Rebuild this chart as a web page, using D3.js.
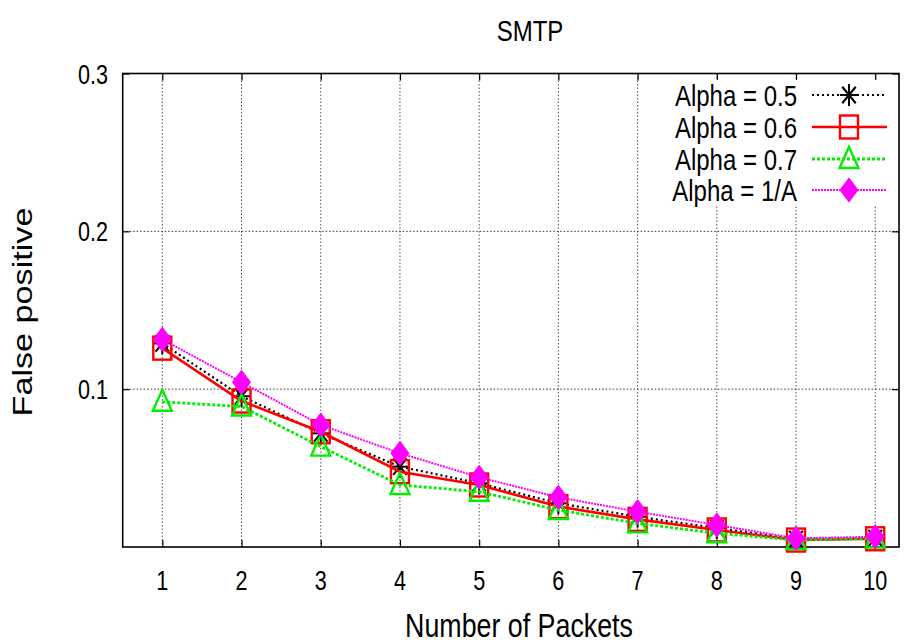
<!DOCTYPE html>
<html>
<head>
<meta charset="utf-8">
<script src="https://cdn.jsdelivr.net/npm/d3@7"></script>
<style>
  html, body { margin: 0; padding: 0; background: #fff; }
  svg { display: block; }
  text { font-family: "Liberation Sans", Arial, Helvetica, sans-serif; fill: #000; }
</style>
</head>
<body>
<svg id="chart" width="908" height="643"></svg>
<script>
// False-positive rate against number of packets for the SMTP trace
const packets = [1, 2, 3, 4, 5, 6, 7, 8, 9, 10];
const alpha05 = [0.129, 0.0955, 0.072, 0.0509, 0.0404, 0.0277, 0.0192, 0.0120, 0.0050, 0.0056];
const alpha06 = [0.126, 0.0925, 0.073, 0.0477, 0.0393, 0.0256, 0.0175, 0.0108, 0.0044, 0.0052];
const alpha07 = [0.092, 0.0890, 0.0636, 0.0393, 0.0350, 0.0234, 0.0150, 0.0087, 0.0044, 0.0054];
const alphaInv = [0.1316, 0.1044, 0.0773, 0.0594, 0.0442, 0.0315, 0.0224, 0.0139, 0.0055, 0.0065];
const seriesNames = ["Alpha = 0.5", "Alpha = 0.6", "Alpha = 0.7", "Alpha = 1/A"];
const yTicks = [0.1, 0.2, 0.3];
const titleText = "SMTP";
const xLabelText = "Number of Packets";
const yLabelText = "False positive";

const svg = d3.select("#chart");
const plotL = 122.7, plotR = 899, plotT = 73.5, plotB = 547;

const x = d3.scaleLinear().domain([0.5, 10.3]).range([plotL, plotR]);
const y = d3.scaleLinear().domain([0, 0.3]).range([plotB, plotT]);

// condensed text: glyphs are narrower than they are tall
const SX = 0.8;
function label(g, str, px, py, size, anchor) {
  return g.append("text")
    .attr("transform", `translate(${px},${py}) scale(${SX},1)`)
    .attr("text-anchor", anchor)
    .style("font-size", size + "px")
    .text(str);
}

// grid
const grid = svg.append("g");
grid.selectAll("line.vx").data(packets).join("line")
  .attr("x1", d => x(d)).attr("x2", d => x(d))
  .attr("y1", plotT).attr("y2", plotB)
  .attr("stroke", "#555").attr("stroke-width", 1).attr("stroke-dasharray", "1.5,2");
grid.selectAll("line.hy").data(yTicks.filter(d => d < 0.3)).join("line")
  .attr("x1", plotL).attr("x2", plotR)
  .attr("y1", d => y(d)).attr("y2", d => y(d))
  .attr("stroke", "#333").attr("stroke-width", 1).attr("stroke-dasharray", "1.5,2");

// axes with inward ticks, mirrored on the opposite sides
const axB = svg.append("g").attr("transform", `translate(0,${plotB})`)
  .call(d3.axisBottom(x).tickValues(packets).tickSizeInner(-7).tickSizeOuter(0).tickFormat(""));
const axT = svg.append("g").attr("transform", `translate(0,${plotT})`)
  .call(d3.axisTop(x).tickValues(packets).tickSizeInner(-7).tickSizeOuter(0).tickFormat(""));
const axL = svg.append("g").attr("transform", `translate(${plotL},0)`)
  .call(d3.axisLeft(y).tickValues(yTicks).tickSizeInner(-7).tickSizeOuter(0).tickFormat(""));
const axR = svg.append("g").attr("transform", `translate(${plotR},0)`)
  .call(d3.axisRight(y).tickValues(yTicks).tickSizeInner(-7).tickSizeOuter(0).tickFormat(""));
[axB, axT, axL, axR].forEach(a => {
  a.select(".domain").remove();
  a.selectAll(".tick line").attr("stroke", "#000").attr("stroke-width", 1.2);
});

// tick labels
const tl = svg.append("g");
packets.forEach(p => label(tl, String(p), x(p), 590, 27, "middle"));
yTicks.forEach(v => label(tl, d3.format(".1f")(v), 108, y(v) + 10, 27, "end"));

// legend background hides the grid behind it
svg.append("rect").attr("x", 660).attr("y", 80).attr("width", 236).attr("height", 126).attr("fill", "#fff");

// frame
svg.append("rect").attr("x", plotL).attr("y", plotT)
  .attr("width", plotR - plotL).attr("height", plotB - plotT)
  .attr("fill", "none").attr("stroke", "#000").attr("stroke-width", 1.6);

// titles
label(svg, titleText, 530, 41, 30, "middle");
label(svg, xLabelText, 519, 637, 33.5, "middle");
svg.append("text")
  .attr("transform", `translate(32,312) scale(1,1.22) rotate(-90)`)
  .attr("text-anchor", "middle")
  .style("font-size", "28px")
  .text(yLabelText);

// marker shapes
function star(g, cx, cy, c) {
  const w = 9, h = 11;
  const p = g.append("g").attr("stroke", c).attr("stroke-width", 2).attr("fill", "none");
  p.append("line").attr("x1", cx - w).attr("x2", cx + w).attr("y1", cy).attr("y2", cy);
  p.append("line").attr("x1", cx).attr("x2", cx).attr("y1", cy - h).attr("y2", cy + h);
  p.append("line").attr("x1", cx - w * 0.75).attr("x2", cx + w * 0.75).attr("y1", cy - h * 0.75).attr("y2", cy + h * 0.75);
  p.append("line").attr("x1", cx - w * 0.75).attr("x2", cx + w * 0.75).attr("y1", cy + h * 0.75).attr("y2", cy - h * 0.75);
}
function square(g, cx, cy, c) {
  g.append("rect").attr("x", cx - 9).attr("y", cy - 11.5).attr("width", 18).attr("height", 23)
    .attr("fill", "none").attr("stroke", c).attr("stroke-width", 2.4);
}
function triangle(g, cx, cy, c) {
  g.append("path").attr("d", `M${cx},${cy - 12} L${cx + 9.5},${cy + 9} L${cx - 9.5},${cy + 9} Z`)
    .attr("fill", "none").attr("stroke", c).attr("stroke-width", 2.4);
}
function diamond(g, cx, cy, c) {
  g.append("path").attr("d", `M${cx},${cy - 12} L${cx + 9},${cy} L${cx},${cy + 12} L${cx - 9},${cy} Z`)
    .attr("fill", c).attr("stroke", c).attr("stroke-width", 1);
}

const series = [
  { name: seriesNames[0], values: alpha05, color: "#000", width: 2.2, dash: "2,3", mark: star },
  { name: seriesNames[1], values: alpha06, color: "#ff0000", width: 2.6, dash: null, mark: square },
  { name: seriesNames[2], values: alpha07, color: "#00ee00", width: 2.8, dash: "3,2", mark: triangle },
  { name: seriesNames[3], values: alphaInv, color: "#ff00ff", width: 2, dash: "2,1", mark: diamond }
];

const line = d3.line().x((d, i) => x(packets[i])).y(d => y(d));
const plot = svg.append("g");
series.forEach(s => {
  const g = plot.append("g");
  g.append("path").datum(s.values).attr("d", line)
    .attr("fill", "none").attr("stroke", s.color).attr("stroke-width", s.width)
    .attr("stroke-dasharray", s.dash);
  s.values.forEach((v, i) => s.mark(g, x(packets[i]), y(v), s.color));
});

// legend
const leg = svg.append("g");
const legRows = [95, 127, 159, 190];
series.forEach((s, i) => {
  const ry = legRows[i];
  label(leg, s.name, 797, ry + 11, 30, "end");
  leg.append("line").attr("x1", 812).attr("x2", 887).attr("y1", ry).attr("y2", ry)
    .attr("stroke", s.color).attr("stroke-width", s.width).attr("stroke-dasharray", s.dash);
  s.mark(leg, 849, ry, s.color);
});
</script>
</body>
</html>
